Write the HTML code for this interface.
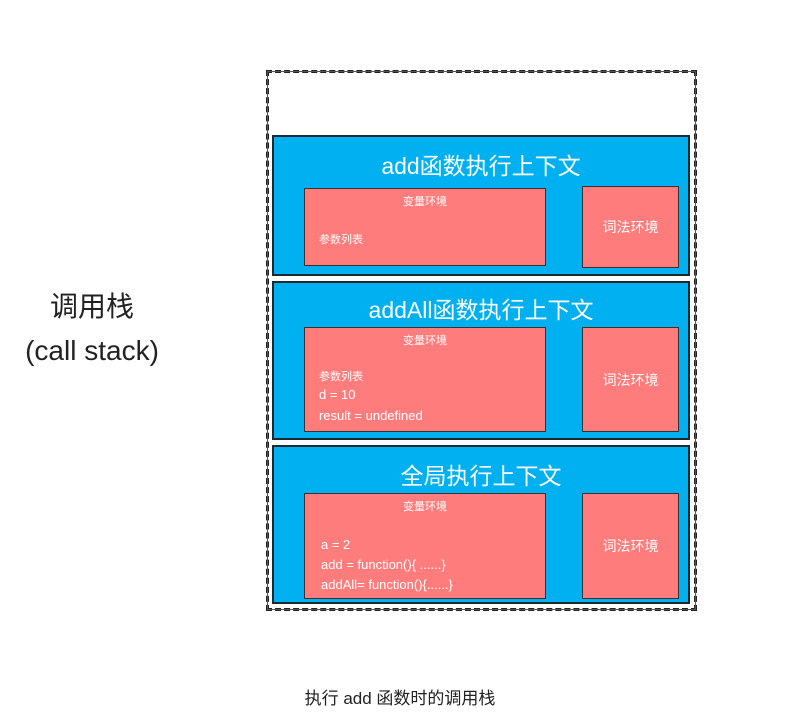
<!DOCTYPE html>
<html><head><meta charset="utf-8"><style>
body{margin:0;width:788px;height:713px;background:#fff;position:relative;overflow:hidden;font-family:"Liberation Sans","Noto Sans CJK SC",sans-serif}
div{position:absolute;box-sizing:border-box}
.outer{left:266px;top:70px;width:431px;height:541px;border:3px dashed #222;outline:1px solid #555;outline-offset:-2px}
.sec{left:272px;width:418px;background:#00b0f0;border:2px solid #1a2a33}
.title{left:0;width:100%;text-align:center;color:#fff;font-size:23px}
.var{left:30px;width:242px;background:#ff7c7c;border:1.5px solid #333;color:#fff}
.lex{left:308px;width:97px;background:#ff7c7c;border:1.5px solid #333;color:#fff;font-size:14px;display:flex;align-items:center;justify-content:center}
.vt{left:0;width:100%;text-align:center;top:4px;font-size:11px}
.tx{left:14px;font-size:13px;line-height:22px;white-space:nowrap}
</style></head><body>
<div class="outer"></div>
<div style="left:0px;top:285px;width:184px;text-align:center;font-size:28px;line-height:44px;color:#222">调用栈<br>(call stack)</div>

<div class="sec" style="top:135px;height:141px">
 <div class="title" style="top:10px">add函数执行上下文</div>
 <div class="var" style="top:51px;height:78px"><div class="vt">变量环境</div><div class="tx" style="top:40px;font-size:11px">参数列表</div></div>
 <div class="lex" style="top:49px;height:82px">词法环境</div>
</div>

<div class="sec" style="top:281px;height:159px">
 <div class="title" style="top:8px">addAll函数执行上下文</div>
 <div class="var" style="top:44px;height:105px"><div class="vt">变量环境</div>
  <div class="tx" style="top:38px;font-size:11px">参数列表</div>
  <div class="tx" style="top:56px">d = 10</div>
  <div class="tx" style="top:77px">result = undefined</div></div>
 <div class="lex" style="top:44px;height:105px">词法环境</div>
</div>

<div class="sec" style="top:445px;height:159px">
 <div class="title" style="top:10px">全局执行上下文</div>
 <div class="var" style="top:46px;height:106px"><div class="vt">变量环境</div>
  <div class="tx" style="top:40px;left:16px">a = 2</div>
  <div class="tx" style="top:60px;left:16px">add = function(){ ......}</div>
  <div class="tx" style="top:80px;left:16px">addAll= function(){......}</div></div>
 <div class="lex" style="top:46px;height:106px">词法环境</div>
</div>

<div style="left:200px;top:684px;width:400px;text-align:center;font-size:17px;color:#222">执行 add 函数时的调用栈</div>
</body></html>
